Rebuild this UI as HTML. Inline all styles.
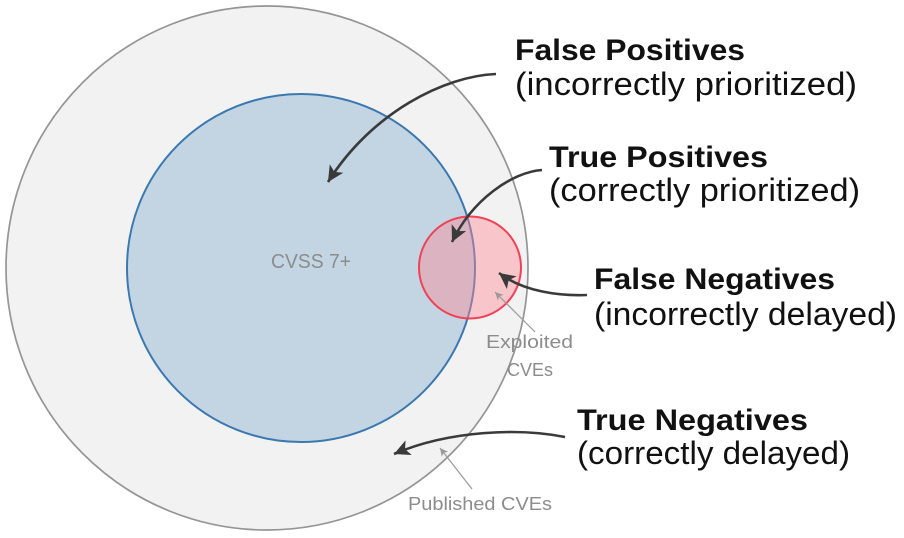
<!DOCTYPE html>
<html>
<head>
<meta charset="utf-8">
<style>
  html,body{margin:0;padding:0;background:#fff;}
  svg{display:block;}
  .b{font-family:"Liberation Sans",sans-serif;font-weight:bold;font-size:30px;fill:#111;}
  .r{font-family:"Liberation Sans",sans-serif;font-size:32px;fill:#111;}
  .s{font-family:"Liberation Sans",sans-serif;font-size:18px;fill:#8c8c8c;}
</style>
</head>
<body>
<svg width="904" height="538" viewBox="0 0 904 538" xmlns="http://www.w3.org/2000/svg">
  <defs>
    <marker id="ah" markerUnits="userSpaceOnUse" markerWidth="20" markerHeight="16" refX="16" refY="8" orient="auto">
      <path d="M0,0 L16,8 L0,16 L4,8 Z" fill="#3a3a3a"/>
    </marker>
    <marker id="sh" markerUnits="userSpaceOnUse" markerWidth="10" markerHeight="8" refX="8" refY="4" orient="auto">
      <path d="M0,0 L8,4 L0,8 L2,4 Z" fill="#9a9a9a"/>
    </marker>
  </defs>

  <!-- Outer circle: Published CVEs -->
  <ellipse cx="267" cy="268" rx="261" ry="262" fill="#f2f2f2" stroke="#959595" stroke-width="1.7"/>

  <!-- Blue circle: CVSS 7+ -->
  <circle cx="301" cy="268" r="175" fill="#ffffff" stroke="none"/>
  <circle cx="301" cy="268" r="174" fill="#c3d5e2" stroke="#3b78b0" stroke-width="2"/>

  <!-- Red circle: Exploited CVEs -->
  <circle cx="470" cy="267.5" r="51" fill="rgba(255,135,148,0.42)" stroke="#ef4257" stroke-width="2"/>

  <!-- Small labels -->
  <text class="s" x="271" y="268" textLength="80" lengthAdjust="spacingAndGlyphs" style="font-size:20px">CVSS 7+</text>
  <text class="s" x="486" y="348" textLength="87" lengthAdjust="spacingAndGlyphs">Exploited</text>
  <text class="s" x="507" y="376" textLength="46" lengthAdjust="spacingAndGlyphs">CVEs</text>
  <text class="s" x="408" y="510" textLength="144" lengthAdjust="spacingAndGlyphs">Published CVEs</text>

  <!-- Thin leader lines -->
  <path d="M535,332 L495,292" stroke="#9a9a9a" stroke-width="1.2" fill="none" marker-end="url(#sh)"/>
  <path d="M472,489 L440,448" stroke="#9a9a9a" stroke-width="1.2" fill="none" marker-end="url(#sh)"/>

  <!-- Arrows -->
  <path d="M496,74 C445,76 372,112 328,182" stroke="#3a3a3a" stroke-width="2.6" fill="none" marker-end="url(#ah)"/>
  <path d="M542,170 C512,172 472,200 452,242" stroke="#3a3a3a" stroke-width="2.6" fill="none" marker-end="url(#ah)"/>
  <path d="M587,295 C560,296 524,292 499,273" stroke="#3a3a3a" stroke-width="2.6" fill="none" marker-end="url(#ah)"/>
  <path d="M565,437 C520,428 450,430 394,454" stroke="#3a3a3a" stroke-width="2.6" fill="none" marker-end="url(#ah)"/>

  <!-- Labels -->
  <text class="b" x="515" y="60" textLength="230" lengthAdjust="spacingAndGlyphs">False Positives</text>
  <text class="r" x="515" y="95" textLength="342" lengthAdjust="spacingAndGlyphs">(incorrectly prioritized)</text>

  <text class="b" x="549" y="167" textLength="219" lengthAdjust="spacingAndGlyphs">True Positives</text>
  <text class="r" x="549" y="201" textLength="311" lengthAdjust="spacingAndGlyphs">(correctly prioritized)</text>

  <text class="b" x="594" y="289" textLength="241" lengthAdjust="spacingAndGlyphs">False Negatives</text>
  <text class="r" x="594" y="325" textLength="303" lengthAdjust="spacingAndGlyphs">(incorrectly delayed)</text>

  <text class="b" x="577" y="430" textLength="231" lengthAdjust="spacingAndGlyphs">True Negatives</text>
  <text class="r" x="577" y="464" textLength="273" lengthAdjust="spacingAndGlyphs">(correctly delayed)</text>
</svg>
</body>
</html>
